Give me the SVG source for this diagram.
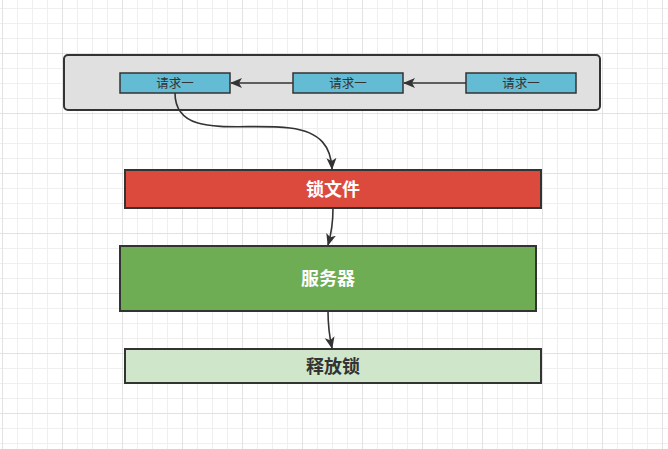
<svg xmlns="http://www.w3.org/2000/svg" width="668" height="449" viewBox="0 0 668 449">
<defs>
<pattern id="grid" patternUnits="userSpaceOnUse" x="2" y="-7" width="60" height="60">
<path d="M15.5,0V60M30.5,0V60M45.5,0V60M0,15.5H60M0,30.5H60M0,45.5H60" stroke="#efefef" stroke-width="1" fill="none"/>
<path d="M0.5,0V60M0,0.5H60" stroke="#e2e2e2" stroke-width="1" fill="none"/>
</pattern>
<marker id="arr" markerUnits="userSpaceOnUse" markerWidth="13" markerHeight="11" refX="11" refY="5.5" orient="auto">
<path d="M0,0.5 L12,5.5 L0,10.5 L3,5.5 Z" fill="#333"/>
</marker>
<style>
.req rect{fill:#64bcd4;stroke:#333;stroke-width:1.5}
.req text{font-family:"Noto Sans CJK SC","Liberation Sans",sans-serif;font-size:12.5px;fill:#333;text-anchor:middle}
.big{font-family:"Noto Sans CJK SC","Liberation Sans",sans-serif;font-size:18px;font-weight:bold;text-anchor:middle}
.box{stroke:#333;stroke-width:2}
#connectors path{fill:none;stroke:#333;stroke-width:1.6;marker-end:url(#arr)}
</style>
</defs>
<rect width="668" height="449" fill="#fff"/>
<rect width="668" height="449" fill="url(#grid)"/>
<g id="container">
<rect x="64" y="55" width="536" height="55" rx="4" fill="#e0e0e0" stroke="#333" stroke-width="2"/>
</g>
<g id="req1" class="req"><rect x="120" y="73" width="110" height="20"/><text x="175" y="87.5">请求一</text></g>
<g id="req2" class="req"><rect x="293" y="73" width="110" height="20"/><text x="348" y="87.5">请求一</text></g>
<g id="req3" class="req"><rect x="466" y="73" width="110" height="20"/><text x="521" y="87.5">请求一</text></g>
<g id="lockfile"><rect class="box" x="125" y="170" width="416" height="38" fill="#db4a3d"/><text class="big" x="333" y="195.5" fill="#fff">锁文件</text></g>
<g id="server"><rect class="box" x="120" y="246" width="416" height="65" fill="#6fad54"/><text class="big" x="328" y="284.5" fill="#fff">服务器</text></g>
<g id="release"><rect class="box" x="125" y="349" width="416" height="34" fill="#d0e6ca"/><text class="big" x="333" y="372.5" fill="#333">释放锁</text></g>
<g id="connectors">
<path d="M466,83 L404,83"/>
<path d="M293,83 L231,83"/>
<path d="M175,93 C175,140 240,122 290,128 C322,132 331,148 332,169"/>
<path d="M333,208 Q333,228 328,245"/>
<path d="M328,311 Q328,330 332,348"/>
</g>
</svg>
